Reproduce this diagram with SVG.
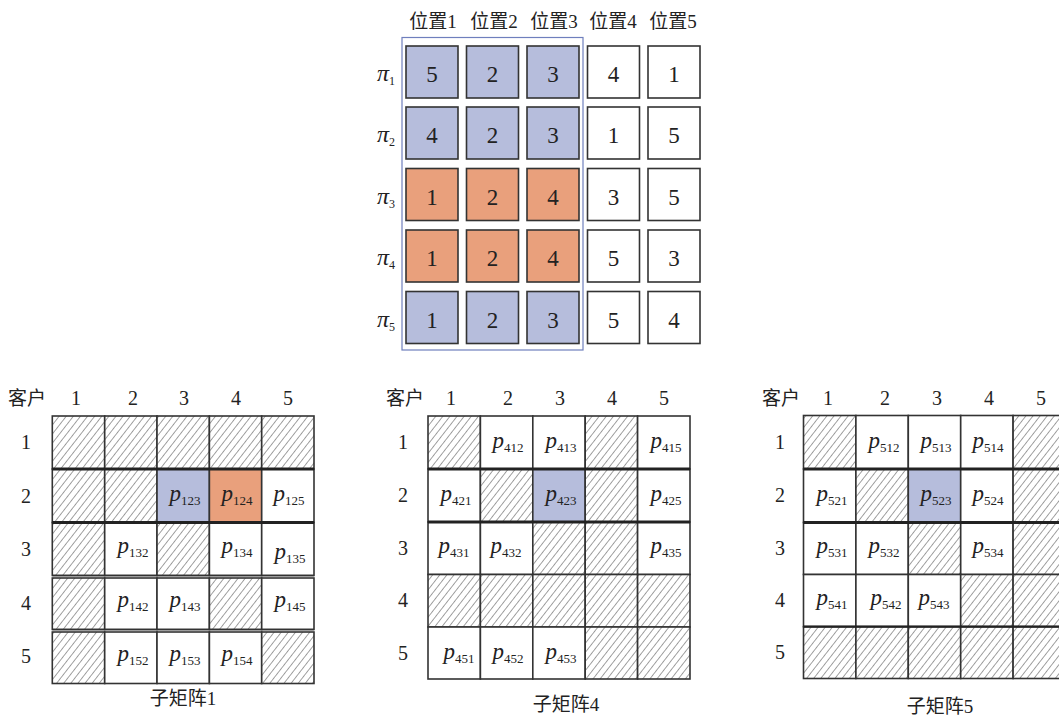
<svg xmlns="http://www.w3.org/2000/svg" width="1059" height="716" viewBox="0 0 1059 716">
  <defs>
    <pattern id="hatch" width="5.6" height="5.6" patternUnits="userSpaceOnUse" patternTransform="rotate(38)">
      <rect width="5.6" height="5.6" fill="#fff"/>
      <line x1="0" y1="0" x2="0" y2="5.6" stroke="#222" stroke-width="0.85"/>
    </pattern>
  </defs>
  <style>
    .cell { stroke: #333; stroke-width: 1.6; }
    .w { fill: #fff; }
    .b { fill: #b6bddc; }
    .o { fill: #e9a07c; }
    .h { fill: url(#hatch); }
    .num { font-family: "Liberation Serif", serif; font-size: 23px; fill: #222; text-anchor: middle; }
    .lbl { font-family: "Liberation Serif", serif; font-size: 20px; fill: #222; text-anchor: middle; }
    .cjk { font-family: "Liberation Serif", "Noto Sans CJK SC", sans-serif; font-size: 19px; fill: #222; text-anchor: middle; }
    .pi { font-family: "Liberation Serif", serif; font-size: 24px; font-style: italic; fill: #222; }
    .sub { font-size: 12px; font-style: normal; }
    .p { font-family: "Liberation Serif", serif; font-size: 23px; font-style: italic; fill: #222; text-anchor: middle; }
    .ps { font-size: 13px; font-style: normal; }
    .thick { stroke: #222; stroke-width: 3; }
    .mid { stroke: #222; stroke-width: 2.2; }
    .thin { stroke: #333; stroke-width: 1.4; }
  </style>

  <rect width="1059" height="716" fill="#fff"/>

  <!-- permutation table: column headers -->
  <g id="position-headers">
    <text class="cjk" x="433" y="28">位置1</text>
    <text class="cjk" x="494" y="28">位置2</text>
    <text class="cjk" x="554" y="28">位置3</text>
    <text class="cjk" x="613" y="28">位置4</text>
    <text class="cjk" x="673" y="28">位置5</text>
  </g>

  <!-- selection frame around the first three positions -->
  <rect id="selection-frame" x="402" y="37.5" width="181" height="312.5" fill="none" stroke="#6f7fbd" stroke-width="1.2"/>

  <!-- row labels pi_1..pi_5 -->
  <g id="pi-labels">
    <text class="pi" x="377" y="81">π<tspan class="sub" dy="4">1</tspan></text>
    <text class="pi" x="377" y="142">π<tspan class="sub" dy="4">2</tspan></text>
    <text class="pi" x="377" y="203.5">π<tspan class="sub" dy="4">3</tspan></text>
    <text class="pi" x="377" y="265">π<tspan class="sub" dy="4">4</tspan></text>
    <text class="pi" x="377" y="326.5">π<tspan class="sub" dy="4">5</tspan></text>
  </g>

  <!-- permutation rows -->
  <g id="pi1">
    <rect class="cell b" x="406" y="46" width="52" height="52"/><text class="num" x="432" y="82">5</text>
    <rect class="cell b" x="466.5" y="46" width="52" height="52"/><text class="num" x="492.5" y="82">2</text>
    <rect class="cell b" x="527" y="46" width="52" height="52"/><text class="num" x="553" y="82">3</text>
    <rect class="cell w" x="587.5" y="46" width="52" height="52"/><text class="num" x="613.5" y="82">4</text>
    <rect class="cell w" x="648" y="46" width="52" height="52"/><text class="num" x="674" y="82">1</text>
  </g>
  <g id="pi2">
    <rect class="cell b" x="406" y="107" width="52" height="52"/><text class="num" x="432" y="143">4</text>
    <rect class="cell b" x="466.5" y="107" width="52" height="52"/><text class="num" x="492.5" y="143">2</text>
    <rect class="cell b" x="527" y="107" width="52" height="52"/><text class="num" x="553" y="143">3</text>
    <rect class="cell w" x="587.5" y="107" width="52" height="52"/><text class="num" x="613.5" y="143">1</text>
    <rect class="cell w" x="648" y="107" width="52" height="52"/><text class="num" x="674" y="143">5</text>
  </g>
  <g id="pi3">
    <rect class="cell o" x="406" y="168.5" width="52" height="52"/><text class="num" x="432" y="204.5">1</text>
    <rect class="cell o" x="466.5" y="168.5" width="52" height="52"/><text class="num" x="492.5" y="204.5">2</text>
    <rect class="cell o" x="527" y="168.5" width="52" height="52"/><text class="num" x="553" y="204.5">4</text>
    <rect class="cell w" x="587.5" y="168.5" width="52" height="52"/><text class="num" x="613.5" y="204.5">3</text>
    <rect class="cell w" x="648" y="168.5" width="52" height="52"/><text class="num" x="674" y="204.5">5</text>
  </g>
  <g id="pi4">
    <rect class="cell o" x="406" y="230" width="52" height="52"/><text class="num" x="432" y="266">1</text>
    <rect class="cell o" x="466.5" y="230" width="52" height="52"/><text class="num" x="492.5" y="266">2</text>
    <rect class="cell o" x="527" y="230" width="52" height="52"/><text class="num" x="553" y="266">4</text>
    <rect class="cell w" x="587.5" y="230" width="52" height="52"/><text class="num" x="613.5" y="266">5</text>
    <rect class="cell w" x="648" y="230" width="52" height="52"/><text class="num" x="674" y="266">3</text>
  </g>
  <g id="pi5">
    <rect class="cell b" x="406" y="291.5" width="52" height="52"/><text class="num" x="432" y="327.5">1</text>
    <rect class="cell b" x="466.5" y="291.5" width="52" height="52"/><text class="num" x="492.5" y="327.5">2</text>
    <rect class="cell b" x="527" y="291.5" width="52" height="52"/><text class="num" x="553" y="327.5">3</text>
    <rect class="cell w" x="587.5" y="291.5" width="52" height="52"/><text class="num" x="613.5" y="327.5">5</text>
    <rect class="cell w" x="648" y="291.5" width="52" height="52"/><text class="num" x="674" y="327.5">4</text>
  </g>

  <!-- sub-matrix 1 -->
  <g id="submatrix-1">
    <text class="cjk" x="27" y="405">客户</text>
    <text class="lbl" x="76" y="405">1</text>
    <text class="lbl" x="133" y="405">2</text>
    <text class="lbl" x="184" y="405">3</text>
    <text class="lbl" x="236" y="405">4</text>
    <text class="lbl" x="288" y="405">5</text>
    <text class="lbl" x="26" y="449">1</text>
    <text class="lbl" x="26" y="502.5">2</text>
    <text class="lbl" x="26" y="556">3</text>
    <text class="lbl" x="26" y="609.5">4</text>
    <text class="lbl" x="26" y="663">5</text>

    <!-- row 1 -->
    <rect class="cell h" x="52.3" y="416" width="52.4" height="53"/>
    <rect class="cell h" x="104.7" y="416" width="52.3" height="53"/>
    <rect class="cell h" x="157" y="416" width="52.4" height="53"/>
    <rect class="cell h" x="209.4" y="416" width="52.3" height="53"/>
    <rect class="cell h" x="261.7" y="416" width="52.3" height="53"/>
    <!-- row 2 -->
    <rect class="cell h" x="52.3" y="469" width="52.4" height="53.5"/>
    <rect class="cell h" x="104.7" y="469" width="52.3" height="53.5"/>
    <rect class="cell b" x="157" y="469" width="52.4" height="53.5"/>
    <rect class="cell o" x="209.4" y="469" width="52.3" height="53.5"/>
    <rect class="cell w" x="261.7" y="469" width="52.3" height="53.5"/>
    <!-- row 3 -->
    <rect class="cell h" x="52.3" y="522.5" width="52.4" height="53"/>
    <rect class="cell w" x="104.7" y="522.5" width="52.3" height="53"/>
    <rect class="cell h" x="157" y="522.5" width="52.4" height="53"/>
    <rect class="cell w" x="209.4" y="522.5" width="52.3" height="53"/>
    <rect class="cell w" x="261.7" y="522.5" width="52.3" height="53"/>
    <!-- row 4 -->
    <rect class="cell h" x="52.3" y="578" width="52.4" height="51.5"/>
    <rect class="cell w" x="104.7" y="578" width="52.3" height="51.5"/>
    <rect class="cell w" x="157" y="578" width="52.4" height="51.5"/>
    <rect class="cell h" x="209.4" y="578" width="52.3" height="51.5"/>
    <rect class="cell w" x="261.7" y="578" width="52.3" height="51.5"/>
    <!-- row 5 -->
    <rect class="cell h" x="52.3" y="632" width="52.4" height="51.5"/>
    <rect class="cell w" x="104.7" y="632" width="52.3" height="51.5"/>
    <rect class="cell w" x="157" y="632" width="52.4" height="51.5"/>
    <rect class="cell w" x="209.4" y="632" width="52.3" height="51.5"/>
    <rect class="cell h" x="261.7" y="632" width="52.3" height="51.5"/>
    <!-- heavy row separators -->
    <line class="thick" x1="52.3" y1="469" x2="314" y2="469"/>
    <line class="thick" x1="52.3" y1="522.5" x2="314" y2="522.5"/>
    <line class="thin" x1="52.3" y1="575.5" x2="314" y2="575.5"/>
    <line class="thin" x1="52.3" y1="629.5" x2="314" y2="629.5"/>

    <text class="p" x="185" y="501">p<tspan class="ps" dy="4">123</tspan></text>
    <text class="p" x="237" y="501">p<tspan class="ps" dy="4">124</tspan></text>
    <text class="p" x="289" y="501">p<tspan class="ps" dy="4">125</tspan></text>
    <text class="p" x="133" y="553">p<tspan class="ps" dy="4">132</tspan></text>
    <text class="p" x="237" y="553">p<tspan class="ps" dy="4">134</tspan></text>
    <text class="p" x="290" y="559">p<tspan class="ps" dy="4">135</tspan></text>
    <text class="p" x="133" y="607">p<tspan class="ps" dy="4">142</tspan></text>
    <text class="p" x="185" y="607">p<tspan class="ps" dy="4">143</tspan></text>
    <text class="p" x="290" y="607">p<tspan class="ps" dy="4">145</tspan></text>
    <text class="p" x="133" y="661">p<tspan class="ps" dy="4">152</tspan></text>
    <text class="p" x="185" y="661">p<tspan class="ps" dy="4">153</tspan></text>
    <text class="p" x="237" y="661">p<tspan class="ps" dy="4">154</tspan></text>

    <text class="cjk" x="183" y="705">子矩阵1</text>
  </g>

  <!-- sub-matrix 4 -->
  <g id="submatrix-4">
    <text class="cjk" x="405" y="405">客户</text>
    <text class="lbl" x="451" y="405">1</text>
    <text class="lbl" x="508" y="405">2</text>
    <text class="lbl" x="560" y="405">3</text>
    <text class="lbl" x="612" y="405">4</text>
    <text class="lbl" x="664" y="405">5</text>
    <text class="lbl" x="403" y="449">1</text>
    <text class="lbl" x="403" y="502">2</text>
    <text class="lbl" x="403" y="555">3</text>
    <text class="lbl" x="403" y="607">4</text>
    <text class="lbl" x="403" y="660">5</text>

    <!-- row 1 -->
    <rect class="cell h" x="428" y="416" width="52.4" height="53"/>
    <rect class="cell w" x="480.4" y="416" width="52.4" height="53"/>
    <rect class="cell w" x="532.8" y="416" width="52.4" height="53"/>
    <rect class="cell h" x="585.2" y="416" width="52.4" height="53"/>
    <rect class="cell w" x="637.6" y="416" width="52.4" height="53"/>
    <!-- row 2 -->
    <rect class="cell w" x="428" y="469" width="52.4" height="53"/>
    <rect class="cell h" x="480.4" y="469" width="52.4" height="53"/>
    <rect class="cell b" x="532.8" y="469" width="52.4" height="53"/>
    <rect class="cell h" x="585.2" y="469" width="52.4" height="53"/>
    <rect class="cell w" x="637.6" y="469" width="52.4" height="53"/>
    <!-- row 3 -->
    <rect class="cell w" x="428" y="522" width="52.4" height="52.5"/>
    <rect class="cell w" x="480.4" y="522" width="52.4" height="52.5"/>
    <rect class="cell h" x="532.8" y="522" width="52.4" height="52.5"/>
    <rect class="cell h" x="585.2" y="522" width="52.4" height="52.5"/>
    <rect class="cell w" x="637.6" y="522" width="52.4" height="52.5"/>
    <!-- row 4 -->
    <rect class="cell h" x="428" y="574.5" width="52.4" height="52.5"/>
    <rect class="cell h" x="480.4" y="574.5" width="52.4" height="52.5"/>
    <rect class="cell h" x="532.8" y="574.5" width="52.4" height="52.5"/>
    <rect class="cell h" x="585.2" y="574.5" width="52.4" height="52.5"/>
    <rect class="cell h" x="637.6" y="574.5" width="52.4" height="52.5"/>
    <!-- row 5 -->
    <rect class="cell w" x="428" y="627" width="52.4" height="52"/>
    <rect class="cell w" x="480.4" y="627" width="52.4" height="52"/>
    <rect class="cell w" x="532.8" y="627" width="52.4" height="52"/>
    <rect class="cell h" x="585.2" y="627" width="52.4" height="52"/>
    <rect class="cell h" x="637.6" y="627" width="52.4" height="52"/>
    <line class="thick" x1="428" y1="469" x2="690" y2="469"/>
    <line class="thick" x1="428" y1="522" x2="690" y2="522"/>

    <text class="p" x="456" y="501">p<tspan class="ps" dy="4">421</tspan></text>
    <text class="p" x="508" y="448">p<tspan class="ps" dy="4">412</tspan></text>
    <text class="p" x="561" y="448">p<tspan class="ps" dy="4">413</tspan></text>
    <text class="p" x="666" y="448">p<tspan class="ps" dy="4">415</tspan></text>
    <text class="p" x="561" y="501">p<tspan class="ps" dy="4">423</tspan></text>
    <text class="p" x="666" y="501">p<tspan class="ps" dy="4">425</tspan></text>
    <text class="p" x="454" y="553">p<tspan class="ps" dy="4">431</tspan></text>
    <text class="p" x="506" y="553">p<tspan class="ps" dy="4">432</tspan></text>
    <text class="p" x="666" y="553">p<tspan class="ps" dy="4">435</tspan></text>
    <text class="p" x="459" y="659">p<tspan class="ps" dy="4">451</tspan></text>
    <text class="p" x="508" y="659">p<tspan class="ps" dy="4">452</tspan></text>
    <text class="p" x="561" y="659">p<tspan class="ps" dy="4">453</tspan></text>

    <text class="cjk" x="566" y="711">子矩阵4</text>
  </g>

  <!-- sub-matrix 5 -->
  <g id="submatrix-5">
    <text class="cjk" x="781" y="405">客户</text>
    <text class="lbl" x="828" y="405">1</text>
    <text class="lbl" x="885" y="405">2</text>
    <text class="lbl" x="937" y="405">3</text>
    <text class="lbl" x="989" y="405">4</text>
    <text class="lbl" x="1041" y="405">5</text>
    <text class="lbl" x="780" y="449">1</text>
    <text class="lbl" x="780" y="502">2</text>
    <text class="lbl" x="780" y="555">3</text>
    <text class="lbl" x="780" y="607">4</text>
    <text class="lbl" x="780" y="659">5</text>

    <!-- row 1 -->
    <rect class="cell h" x="803.5" y="415.5" width="52.4" height="53.5"/>
    <rect class="cell w" x="855.9" y="415.5" width="52.4" height="53.5"/>
    <rect class="cell w" x="908.3" y="415.5" width="52.4" height="53.5"/>
    <rect class="cell w" x="960.7" y="415.5" width="52.4" height="53.5"/>
    <rect class="cell h" x="1013.1" y="415.5" width="52.4" height="53.5"/>
    <!-- row 2 -->
    <rect class="cell w" x="803.5" y="469" width="52.4" height="53.5"/>
    <rect class="cell h" x="855.9" y="469" width="52.4" height="53.5"/>
    <rect class="cell b" x="908.3" y="469" width="52.4" height="53.5"/>
    <rect class="cell w" x="960.7" y="469" width="52.4" height="53.5"/>
    <rect class="cell h" x="1013.1" y="469" width="52.4" height="53.5"/>
    <!-- row 3 -->
    <rect class="cell w" x="803.5" y="522.5" width="52.4" height="52"/>
    <rect class="cell w" x="855.9" y="522.5" width="52.4" height="52"/>
    <rect class="cell h" x="908.3" y="522.5" width="52.4" height="52"/>
    <rect class="cell w" x="960.7" y="522.5" width="52.4" height="52"/>
    <rect class="cell h" x="1013.1" y="522.5" width="52.4" height="52"/>
    <!-- row 4 -->
    <rect class="cell w" x="803.5" y="574.5" width="52.4" height="52.2"/>
    <rect class="cell w" x="855.9" y="574.5" width="52.4" height="52.2"/>
    <rect class="cell w" x="908.3" y="574.5" width="52.4" height="52.2"/>
    <rect class="cell h" x="960.7" y="574.5" width="52.4" height="52.2"/>
    <rect class="cell h" x="1013.1" y="574.5" width="52.4" height="52.2"/>
    <!-- row 5 -->
    <rect class="cell h" x="803.5" y="626.7" width="52.4" height="51.8"/>
    <rect class="cell h" x="855.9" y="626.7" width="52.4" height="51.8"/>
    <rect class="cell h" x="908.3" y="626.7" width="52.4" height="51.8"/>
    <rect class="cell h" x="960.7" y="626.7" width="52.4" height="51.8"/>
    <rect class="cell h" x="1013.1" y="626.7" width="52.4" height="51.8"/>
    <line class="thick" x1="803.5" y1="469" x2="1065.5" y2="469"/>
    <line class="thick" x1="803.5" y1="522.5" x2="1065.5" y2="522.5"/>
    <line class="mid" x1="803.5" y1="626.7" x2="1065.5" y2="626.7"/>

    <text class="p" x="884" y="448">p<tspan class="ps" dy="4">512</tspan></text>
    <text class="p" x="936" y="448">p<tspan class="ps" dy="4">513</tspan></text>
    <text class="p" x="988" y="448">p<tspan class="ps" dy="4">514</tspan></text>
    <text class="p" x="832" y="501">p<tspan class="ps" dy="4">521</tspan></text>
    <text class="p" x="936" y="501">p<tspan class="ps" dy="4">523</tspan></text>
    <text class="p" x="988" y="501">p<tspan class="ps" dy="4">524</tspan></text>
    <text class="p" x="832" y="553">p<tspan class="ps" dy="4">531</tspan></text>
    <text class="p" x="884" y="553">p<tspan class="ps" dy="4">532</tspan></text>
    <text class="p" x="988" y="553">p<tspan class="ps" dy="4">534</tspan></text>
    <text class="p" x="832" y="605">p<tspan class="ps" dy="4">541</tspan></text>
    <text class="p" x="886" y="605">p<tspan class="ps" dy="4">542</tspan></text>
    <text class="p" x="934" y="605">p<tspan class="ps" dy="4">543</tspan></text>

    <text class="cjk" x="940" y="713">子矩阵5</text>
  </g>
</svg>
